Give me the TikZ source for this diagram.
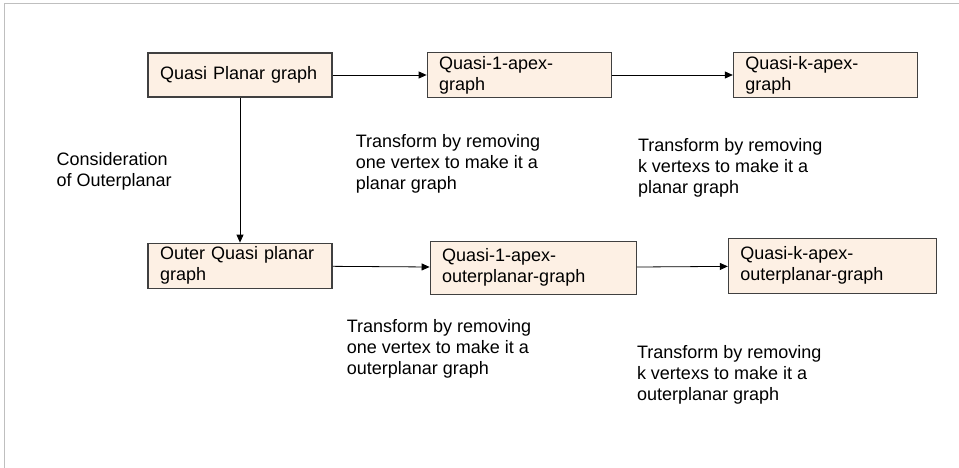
\documentclass[tikz,border=0pt]{standalone}
\usepackage{fontspec}
\setmainfont{Liberation Sans}
\usetikzlibrary{positioning,arrows.meta}
\definecolor{peach}{RGB}{253,240,228}

\begin{document}
\begin{tikzpicture}[x=1pt,y=-1pt,
    every node/.style={font=\fontsize{18}{21}\selectfont},
    box/.style={draw=black!75, line width=1.2pt, fill=peach, align=left, inner xsep=12pt, inner ysep=0pt},
    note/.style={align=left, inner sep=0pt},
    link/.style={-{Triangle[length=8pt,width=7pt]}, line width=0.8pt}] %
    \useasboundingbox (0,0) rectangle (959,468);
    \draw[black!25, line width=1pt] (959,4) -- (4,4) -- (4,468);
    \node[box, text width=160pt, minimum height=44pt] (qp) at (240,75) {Quasi Planar graph} ; %
    \node[box, text width=160pt, minimum height=45pt, right=94pt of qp] (q1) {Quasi-1-apex-\\graph} ; %
    \node[box, text width=160pt, minimum height=45pt, right=121pt of q1] (qk) {Quasi-k-apex-\\graph} ;
    \node[box, text width=160pt, minimum height=45pt, below=145pt of qp] (oqp) {Outer Quasi planar\\graph} ;
    \node[box, text width=182pt, minimum height=53pt, right=97pt of oqp, yshift=-2pt] (q1o) {Quasi-1-apex-\\outerplanar-graph} ;
    \node[box, text width=184pt, minimum height=55pt, right=91pt of q1o, yshift=2pt] (qko) {Quasi-k-apex-\\outerplanar-graph} ;
    \node[note, below right=55pt and -91pt of qp.south west] (cons) {Consideration\\of Outerplanar} ;
    \node[note, below right=36pt and -71pt of q1.south west] (t1) {Transform by removing\\one vertex to make it a\\planar graph} ;
    \node[note, below right=40pt and -95pt of qk.south west] (tk) {Transform by removing\\k vertexs to make it a\\planar graph} ;
    \node[note, below right=24pt and -83pt of q1o.south west] (t1o) {Transform by removing\\one vertex to make it a\\outerplanar graph} ;
    \node[note, below right=51pt and -91pt of qko.south west] (tko) {Transform by removing\\k vertexs to make it a\\outerplanar graph} ;
    \draw[link] (qp) -- (q1) ; %
    \draw[link] (q1) -- (qk) ;
    \draw[link] (qp) -- (oqp) ;
    \draw[link] (oqp) -- (q1o) ;
    \draw[link] (q1o) -- (qko) ;
\end{tikzpicture}
\end{document}
